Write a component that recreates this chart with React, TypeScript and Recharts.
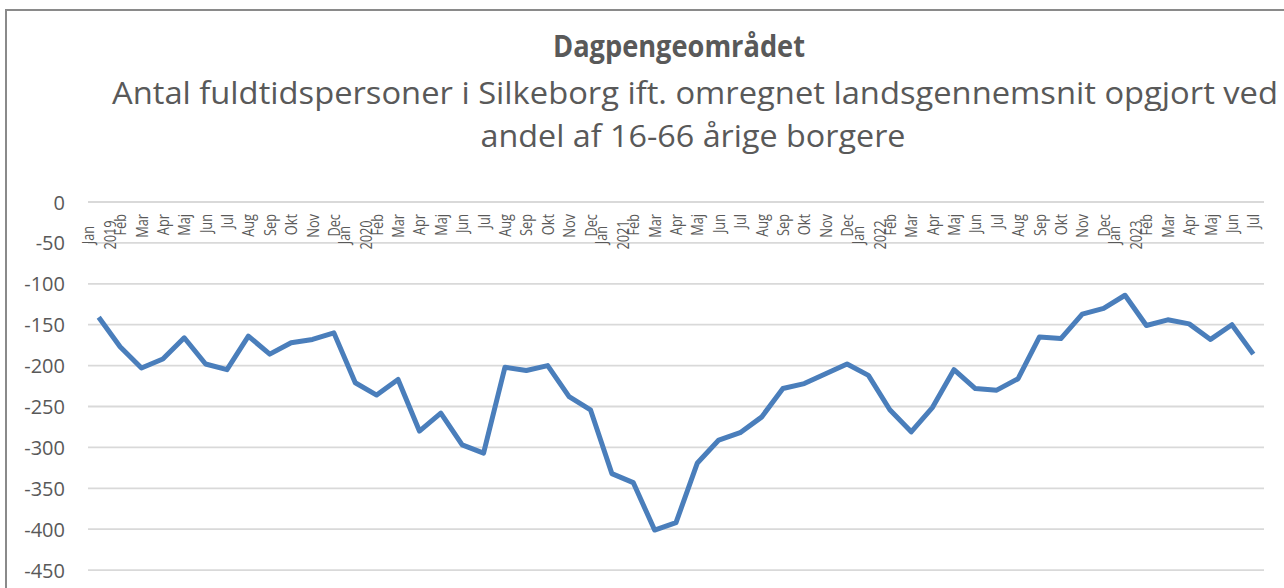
import { LineChart, Line, XAxis, YAxis, CartesianGrid } from 'recharts';

const monthNames = ['Jan', 'Feb', 'Mar', 'Apr', 'Maj', 'Jun', 'Jul', 'Aug', 'Sep', 'Okt', 'Nov', 'Dec'];
const years = ['2019', '2020', '2021', '2022', '2023'];
const monthsInLastYear = 7;

// Silkeborg vs. national average, full-time persons
const values = [
  -141, -177, -203, -192, -166, -198, -205, -164, -186, -172, -168, -160,
  -221, -236, -217, -280, -258, -297, -307, -202, -206, -200, -238, -254,
  -332, -343, -401, -392, -319, -291, -282, -263, -228, -222, -210, -198,
  -212, -254, -281, -251, -205, -228, -230, -216, -165, -167, -137, -130,
  -114, -151, -144, -149, -168, -150, -186,
];

const yTicks = [0, -50, -100, -150, -200, -250, -300, -350, -400, -450];

const title = 'Dagpengeområdet';
const subtitle1 = 'Antal fuldtidspersoner i Silkeborg ift. omregnet landsgennemsnit  opgjort ved';
const subtitle2 = 'andel af 16-66 årige borgere';

const data: { label: string; value: number }[] = [];
years.forEach((year, yi) => {
  const count = yi === years.length - 1 ? monthsInLastYear : 12;
  for (let m = 0; m < count; m++) {
    data.push({ label: `${year}-${monthNames[m]}`, value: values[data.length] });
  }
});

const PLOT_TOP = 202;
const FONT = '"Open Sans", sans-serif';
const TEXT = '#595959';

// rotated label, squeezed a little along its length to look like Calibri
const Rotated = ({ x, y, anchor, children }: any) => (
  <text
    x={0}
    y={0}
    textAnchor={anchor}
    dominantBaseline="central"
    transform={`translate(${x}, ${y}) rotate(-90) scale(0.8, 1)`}
    fontFamily={FONT}
    fontSize={16}
    fill={TEXT}
  >
    {children}
  </text>
);

const MonthTick = (props: any) => {
  const { x, payload } = props;
  const [year, month] = String(payload.value).split('-');
  if (month === 'Jan') {
    return (
      <g>
        <Rotated x={x - 11} y={PLOT_TOP + 33} anchor="middle">{month}</Rotated>
        <Rotated x={x + 11} y={PLOT_TOP + 33} anchor="middle">{year}</Rotated>
      </g>
    );
  }
  return <Rotated x={x} y={PLOT_TOP + 12} anchor="end">{month}</Rotated>;
};

const ValueTick = (props: any) => {
  const { y, payload } = props;
  return (
    <text x={65} y={y} textAnchor="end" dominantBaseline="central" fontFamily={FONT} fontSize={20} fill={TEXT}>
      {payload.value}
    </text>
  );
};

export default function App() {
  return (
    <div style={{ position: 'fixed', left: 0, top: 0, width: 1284, height: 588, overflow: 'hidden', background: '#fff' }}>
      <div style={{ position: 'absolute', left: 0, top: 0 }}>
        <LineChart width={1284} height={616} data={data} margin={{ top: PLOT_TOP - 1, right: 20, bottom: 5, left: 0 }}>
          <CartesianGrid vertical={false} stroke="#d9d9d9" strokeWidth={1.8} />
          <XAxis
            dataKey="label"
            orientation="top"
            height={1}
            interval={0}
            axisLine={false}
            tickLine={false}
            padding={{ left: 10.7, right: 10.7 }}
            tick={<MonthTick />}
          />
          <YAxis
            width={88}
            domain={[-500, 0]}
            ticks={yTicks}
            axisLine={false}
            tickLine={false}
            tick={<ValueTick />}
          />
          <Line
            type="linear"
            dataKey="value"
            stroke="#4a7ebb"
            strokeWidth={5}
            strokeLinejoin="round"
            dot={false}
            isAnimationActive={false}
          />
        </LineChart>
      </div>
      <svg width={1284} height={588} style={{ position: 'absolute', left: 0, top: 0, pointerEvents: 'none' }}>
        <path d="M 6 588 L 6 10 L 1284 10" fill="none" stroke="#8a8a8a" strokeWidth={2} />
        <text x={679} y={57} textAnchor="middle" fontFamily={FONT} fontWeight="bold" fontSize={30} fill={TEXT}
          textLength={252} lengthAdjust="spacingAndGlyphs">
          {title}
        </text>
        <text x={695} y={104} textAnchor="middle" fontFamily={FONT} fontSize={31} fill={TEXT}
          textLength={1166} lengthAdjust="spacingAndGlyphs">
          {subtitle1}
        </text>
        <text x={693} y={147} textAnchor="middle" fontFamily={FONT} fontSize={31} fill={TEXT}
          textLength={425} lengthAdjust="spacingAndGlyphs">
          {subtitle2}
        </text>
      </svg>
    </div>
  );
}
